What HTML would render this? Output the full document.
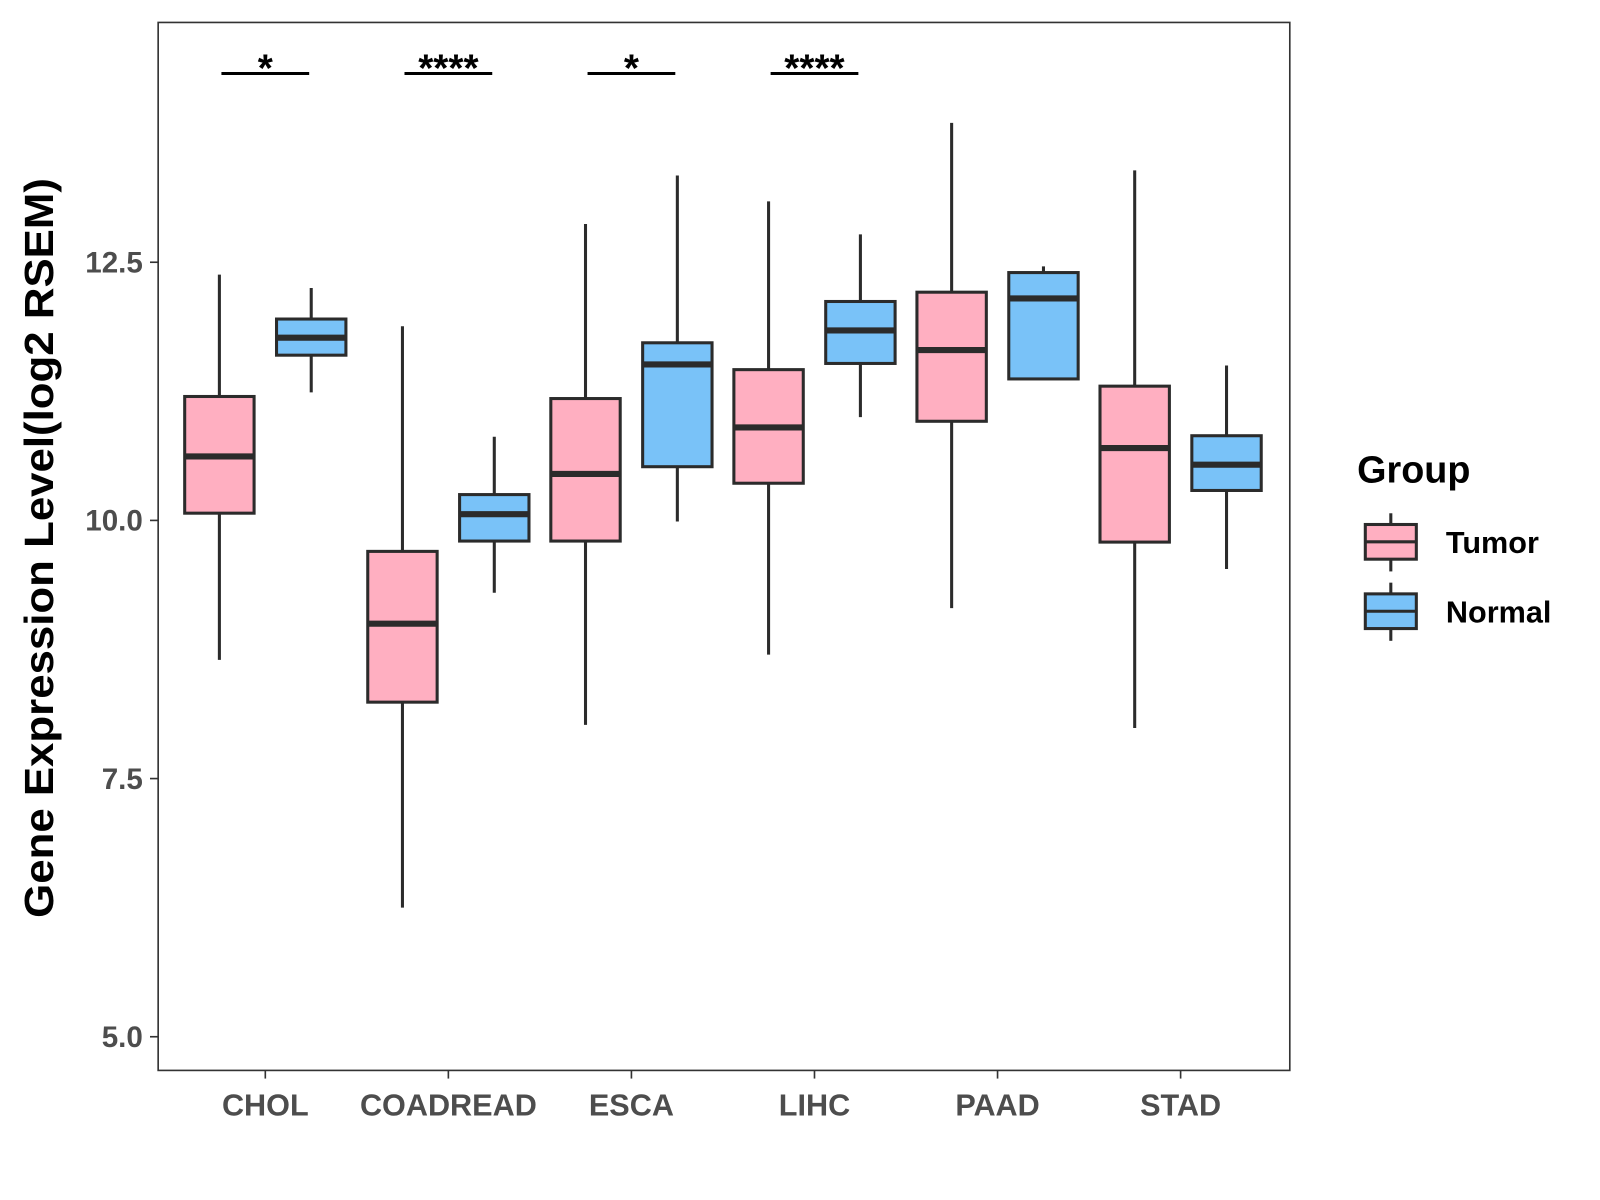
<!DOCTYPE html>
<html><head><meta charset="utf-8"><style>
html,body{margin:0;padding:0;background:#fff}
svg{display:block}
text{font-family:"Liberation Sans",Arial,sans-serif;font-weight:bold}
</style></head><body>
<svg id="chart" width="1600" height="1200" viewBox="0 0 1568 1176" xmlns="http://www.w3.org/2000/svg">
<rect x="155" y="22" width="1109" height="1027" fill="#fff" stroke="#333" stroke-width="1.6"/>
<g id="marks"></g>
<g id="axes"></g>
<text transform="translate(52,537) rotate(-90)" text-anchor="middle" font-size="40" textLength="725" lengthAdjust="spacingAndGlyphs" fill="#000">Gene Expression Level(log2 RSEM)</text>
<g>
<text x="1330" y="473" font-size="37" fill="#000">Group</text>
<g>
<line x1="1363" y1="503" x2="1363" y2="560" stroke="#2b2b2b" stroke-width="3"/>
<rect x="1338" y="514" width="50" height="34" fill="#FFAFC1" stroke="#2b2b2b" stroke-width="3"/>
<line x1="1338" y1="531" x2="1388" y2="531" stroke="#2b2b2b" stroke-width="3"/>
<text x="1417" y="542" font-size="30" fill="#000">Tumor</text>
</g>
<g>
<line x1="1363" y1="571" x2="1363" y2="628" stroke="#2b2b2b" stroke-width="3"/>
<rect x="1338" y="582" width="50" height="34" fill="#79C2F8" stroke="#2b2b2b" stroke-width="3"/>
<line x1="1338" y1="599" x2="1388" y2="599" stroke="#2b2b2b" stroke-width="3"/>
<text x="1417" y="610" font-size="30" fill="#000">Normal</text>
</g>
</g>
</svg>
<script>
const categories = ["CHOL","COADREAD","ESCA","LIHC","PAAD","STAD"];
// [whiskerLow, q1, median, q3, whiskerHigh]
const tumorStats = [
  [8.65,10.07,10.62,11.2,12.38],
  [6.25,8.24,9.0,9.70,11.88],
  [8.02,9.80,10.45,11.18,12.87],
  [8.70,10.36,10.90,11.46,13.09],
  [9.15,10.96,11.65,12.21,13.85],
  [7.99,9.79,10.70,11.30,13.39]
];
const normalStats = [
  [11.24,11.6,11.77,11.95,12.25],
  [9.3,9.80,10.06,10.25,10.81],
  [9.99,10.52,11.51,11.72,13.34],
  [11.0,11.52,11.84,12.12,12.77],
  [11.37,11.37,12.15,12.40,12.46],
  [9.53,10.29,10.54,10.82,11.50]
];
const significance = ["*","****","*","****","",""];
const yTicks = [5.0,7.5,10.0,12.5];
const yTickLabels = ["5.0","7.5","10.0","12.5"];

const NS="http://www.w3.org/2000/svg";
function y(v){return 510 - (v-10)*101.2;}
function x(i){return 260 + i*179.4;}
function mk(tag,attrs,parent){const e=document.createElementNS(NS,tag);for(const k in attrs)e.setAttribute(k,attrs[k]);parent.appendChild(e);return e;}
const marks=document.getElementById('marks'), axes=document.getElementById('axes');
const half=34, off=45;
function drawBox(cx,s,fill,name){
  const g=mk('g',{},marks);
  
  
  mk('line',{x1:cx,x2:cx,y1:y(s[0]),y2:y(s[4]),stroke:'#2b2b2b','stroke-width':3},g);
  mk('rect',{x:cx-half,y:y(s[3]),width:2*half,height:y(s[1])-y(s[3]),fill:fill,stroke:'#2b2b2b','stroke-width':3},g);
  mk('line',{x1:cx-half,x2:cx+half,y1:y(s[2]),y2:y(s[2]),stroke:'#2b2b2b','stroke-width':6},g);
}
categories.forEach((c,i)=>{
  drawBox(x(i)-off,tumorStats[i],'#FFAFC1','box-tumor-'+c.toLowerCase());
  drawBox(x(i)+off,normalStats[i],'#79C2F8','box-normal-'+c.toLowerCase());
  if(significance[i]){
    const g=mk('g',{},marks);
    
    
    mk('line',{x1:x(i)-43,x2:x(i)+43,y1:72,y2:72,stroke:'#000','stroke-width':3},g);
    const t=mk('text',{x:x(i),y:80,'text-anchor':'middle','font-size':38,fill:'#000'},g);
    t.textContent=significance[i];
  }
  const tk=mk('line',{x1:x(i),x2:x(i),y1:1049,y2:1057,stroke:'#333','stroke-width':1.6},axes);
  
  
  const lb=mk('text',{x:x(i),y:1093,'text-anchor':'middle','font-size':30,fill:'#4d4d4d'},axes);
  
  
  lb.textContent=c;
});
yTicks.forEach((v,i)=>{
  const tk=mk('line',{x1:147,x2:155,y1:y(v),y2:y(v),stroke:'#333','stroke-width':1.6},axes);
  
  
  const lb=mk('text',{x:140,y:y(v)+10,'text-anchor':'end','font-size':29,fill:'#4d4d4d'},axes);
  
  
  lb.textContent=yTickLabels[i];
});
</script>
</body></html>
